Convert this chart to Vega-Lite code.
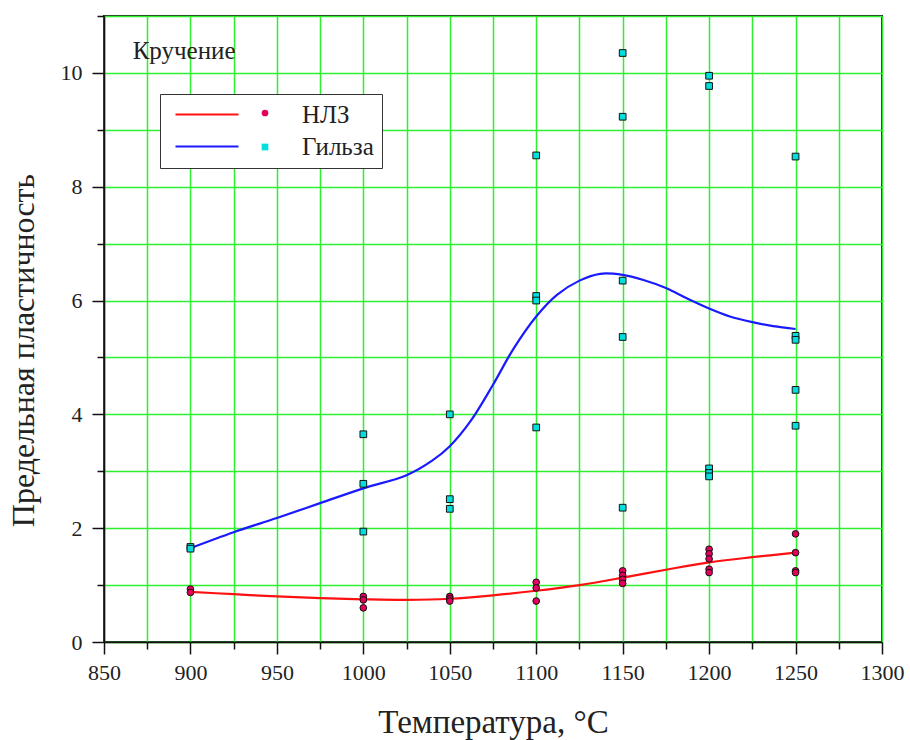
{
  "$schema": "https://vega.github.io/schema/vega-lite/v6.json",
  "width": 778,
  "height": 626,
  "autosize": "none",
  "padding": {"left": 104, "top": 16, "right": 28, "bottom": 98},
  "background": "white",
  "config": {
    "font": "Liberation Serif",
    "view": {"stroke": "#222", "strokeWidth": 2},
    "axis": {"labelFont": "Liberation Serif", "titleFont": "Liberation Serif"},
    "legend": {"labelFont": "Liberation Serif", "titleFont": "Liberation Serif"},
    "text": {"font": "Liberation Serif"}
  },
  "datasets": {
    "curves": [
      {"temp": 900, "value": 0.88, "series": "НЛЗ"},
      {"temp": 925, "value": 0.84, "series": "НЛЗ"},
      {"temp": 950, "value": 0.8, "series": "НЛЗ"},
      {"temp": 975, "value": 0.77, "series": "НЛЗ"},
      {"temp": 1000, "value": 0.75, "series": "НЛЗ"},
      {"temp": 1025, "value": 0.74, "series": "НЛЗ"},
      {"temp": 1050, "value": 0.76, "series": "НЛЗ"},
      {"temp": 1075, "value": 0.82, "series": "НЛЗ"},
      {"temp": 1100, "value": 0.9, "series": "НЛЗ"},
      {"temp": 1125, "value": 1.0, "series": "НЛЗ"},
      {"temp": 1150, "value": 1.13, "series": "НЛЗ"},
      {"temp": 1175, "value": 1.27, "series": "НЛЗ"},
      {"temp": 1200, "value": 1.4, "series": "НЛЗ"},
      {"temp": 1225, "value": 1.49, "series": "НЛЗ"},
      {"temp": 1250, "value": 1.57, "series": "НЛЗ"},
      {"temp": 900, "value": 1.65, "series": "Гильза"},
      {"temp": 925, "value": 1.93, "series": "Гильза"},
      {"temp": 950, "value": 2.18, "series": "Гильза"},
      {"temp": 975, "value": 2.44, "series": "Гильза"},
      {"temp": 1000, "value": 2.7, "series": "Гильза"},
      {"temp": 1025, "value": 2.93, "series": "Гильза"},
      {"temp": 1040, "value": 3.19, "series": "Гильза"},
      {"temp": 1050, "value": 3.44, "series": "Гильза"},
      {"temp": 1062, "value": 3.88, "series": "Гильза"},
      {"temp": 1075, "value": 4.52, "series": "Гильза"},
      {"temp": 1087, "value": 5.16, "series": "Гильза"},
      {"temp": 1100, "value": 5.72, "series": "Гильза"},
      {"temp": 1112, "value": 6.1, "series": "Гильза"},
      {"temp": 1125, "value": 6.35, "series": "Гильза"},
      {"temp": 1137, "value": 6.47, "series": "Гильза"},
      {"temp": 1150, "value": 6.45, "series": "Гильза"},
      {"temp": 1162, "value": 6.36, "series": "Гильза"},
      {"temp": 1175, "value": 6.22, "series": "Гильза"},
      {"temp": 1187, "value": 6.04, "series": "Гильза"},
      {"temp": 1200, "value": 5.86, "series": "Гильза"},
      {"temp": 1212, "value": 5.72, "series": "Гильза"},
      {"temp": 1225, "value": 5.62, "series": "Гильза"},
      {"temp": 1237, "value": 5.55, "series": "Гильза"},
      {"temp": 1250, "value": 5.5, "series": "Гильза"}
    ],
    "points": [
      {"temp": 900, "value": 0.93, "series": "НЛЗ"},
      {"temp": 900, "value": 0.87, "series": "НЛЗ"},
      {"temp": 1000, "value": 0.8, "series": "НЛЗ"},
      {"temp": 1000, "value": 0.74, "series": "НЛЗ"},
      {"temp": 1000, "value": 0.6, "series": "НЛЗ"},
      {"temp": 1050, "value": 0.8, "series": "НЛЗ"},
      {"temp": 1050, "value": 0.76, "series": "НЛЗ"},
      {"temp": 1050, "value": 0.72, "series": "НЛЗ"},
      {"temp": 1100, "value": 1.05, "series": "НЛЗ"},
      {"temp": 1100, "value": 0.95, "series": "НЛЗ"},
      {"temp": 1100, "value": 0.72, "series": "НЛЗ"},
      {"temp": 1150, "value": 1.25, "series": "НЛЗ"},
      {"temp": 1150, "value": 1.17, "series": "НЛЗ"},
      {"temp": 1150, "value": 1.1, "series": "НЛЗ"},
      {"temp": 1150, "value": 1.03, "series": "НЛЗ"},
      {"temp": 1200, "value": 1.63, "series": "НЛЗ"},
      {"temp": 1200, "value": 1.55, "series": "НЛЗ"},
      {"temp": 1200, "value": 1.46, "series": "НЛЗ"},
      {"temp": 1200, "value": 1.28, "series": "НЛЗ"},
      {"temp": 1200, "value": 1.22, "series": "НЛЗ"},
      {"temp": 1250, "value": 1.9, "series": "НЛЗ"},
      {"temp": 1250, "value": 1.57, "series": "НЛЗ"},
      {"temp": 1250, "value": 1.25, "series": "НЛЗ"},
      {"temp": 1250, "value": 1.22, "series": "НЛЗ"},
      {"temp": 900, "value": 1.67, "series": "Гильза"},
      {"temp": 900, "value": 1.64, "series": "Гильза"},
      {"temp": 1000, "value": 3.65, "series": "Гильза"},
      {"temp": 1000, "value": 2.78, "series": "Гильза"},
      {"temp": 1000, "value": 1.94, "series": "Гильза"},
      {"temp": 1050, "value": 4.0, "series": "Гильза"},
      {"temp": 1050, "value": 2.51, "series": "Гильза"},
      {"temp": 1050, "value": 2.34, "series": "Гильза"},
      {"temp": 1100, "value": 8.55, "series": "Гильза"},
      {"temp": 1100, "value": 6.08, "series": "Гильза"},
      {"temp": 1100, "value": 6.0, "series": "Гильза"},
      {"temp": 1100, "value": 3.77, "series": "Гильза"},
      {"temp": 1150, "value": 10.35, "series": "Гильза"},
      {"temp": 1150, "value": 9.23, "series": "Гильза"},
      {"temp": 1150, "value": 6.35, "series": "Гильза"},
      {"temp": 1150, "value": 5.36, "series": "Гильза"},
      {"temp": 1150, "value": 2.36, "series": "Гильза"},
      {"temp": 1200, "value": 9.95, "series": "Гильза"},
      {"temp": 1200, "value": 9.77, "series": "Гильза"},
      {"temp": 1200, "value": 3.05, "series": "Гильза"},
      {"temp": 1200, "value": 2.97, "series": "Гильза"},
      {"temp": 1200, "value": 2.91, "series": "Гильза"},
      {"temp": 1250, "value": 8.53, "series": "Гильза"},
      {"temp": 1250, "value": 5.38, "series": "Гильза"},
      {"temp": 1250, "value": 5.31, "series": "Гильза"},
      {"temp": 1250, "value": 4.43, "series": "Гильза"},
      {"temp": 1250, "value": 3.8, "series": "Гильза"}
    ],
    "notes": [
      {"temp": 866.6, "value": 10.25, "label": "Кручение"}
    ]
  },
  "encoding": {
    "x": {
      "field": "temp",
      "type": "quantitative",
      "scale": {"domain": [850, 1300], "nice": false, "zero": false},
      "axis": {
        "values": [850, 875, 900, 925, 950, 975, 1000, 1025, 1050, 1075, 1100, 1125, 1150, 1175, 1200, 1225, 1250, 1275, 1300],
        "format": "d",
        "labelExpr": "datum.value % 50 === 0 ? datum.label : ''",
        "tickSize": {"condition": {"test": "datum.value % 50 === 0", "value": 12}, "value": 7},
        "tickColor": "#111",
        "tickWidth": 1.5,
        "domainColor": "#111",
        "domainWidth": 1.5,
        "grid": true,
        "gridColor": "#2ef02e",
        "gridWidth": 1.5,
        "labelFont": "Liberation Serif",
        "labelFontSize": 22,
        "labelColor": "#222",
        "labelPadding": 8,
        "labelFlush": false,
        "title": "Температура, °C",
        "titleFont": "Liberation Serif",
        "titleFontSize": 33,
        "titleFontWeight": "normal",
        "titleColor": "#222",
        "titleBaseline": "alphabetic",
        "titleY": 90
      }
    },
    "y": {
      "field": "value",
      "type": "quantitative",
      "scale": {"domain": [0, 11], "nice": false},
      "axis": {
        "values": [0, 1, 2, 3, 4, 5, 6, 7, 8, 9, 10, 11],
        "format": "d",
        "labelExpr": "datum.value % 2 === 0 && datum.value <= 10 ? datum.label : ''",
        "tickSize": {"condition": {"test": "datum.value % 2 === 0", "value": 12}, "value": 7},
        "tickColor": "#111",
        "tickWidth": 1.5,
        "domainColor": "#111",
        "domainWidth": 1.5,
        "grid": true,
        "gridColor": "#2ef02e",
        "gridWidth": 1.5,
        "labelFont": "Liberation Serif",
        "labelFontSize": 22,
        "labelColor": "#222",
        "labelPadding": 10,
        "labelFlush": false,
        "title": "Предельная пластичность",
        "titleFont": "Liberation Serif",
        "titleFontSize": 32,
        "titleFontWeight": "normal",
        "titleColor": "#222",
        "titleBaseline": "alphabetic",
        "titleX": -71,
        "titleY": 334
      }
    }
  },
  "layer": [
    {
      "data": {"name": "notes"},
      "mark": {"type": "text", "align": "left", "baseline": "alphabetic", "fontSize": 25, "font": "Liberation Serif", "color": "#222"},
      "encoding": {"text": {"field": "label"}}
    },
    {
      "data": {"name": "curves"},
      "mark": {"type": "line", "interpolate": "catmull-rom", "strokeWidth": 2.2},
      "encoding": {
        "stroke": {
          "field": "series",
          "type": "nominal",
          "scale": {"domain": ["НЛЗ", "Гильза"], "range": ["#ff1010", "#1a1aff"]},
          "legend": {
            "orient": "none",
            "legendX": 56,
            "legendY": 78,
            "title": null,
            "symbolType": "M-1,0H11.6",
            "symbolSize": 100,
            "symbolStrokeWidth": 2.2,
            "labelFont": "Liberation Serif",
            "labelFontSize": 25,
            "labelColor": "#222",
            "labelOffset": 109,
            "rowPadding": 6,
            "padding": 8,
            "fillColor": "white",
            "strokeColor": "#333",
            "zindex": 1
          }
        }
      }
    },
    {
      "data": {"name": "points"},
      "mark": {"type": "point", "filled": true, "stroke": "#111", "strokeWidth": 1, "size": 45, "opacity": 1},
      "encoding": {
        "fill": {
          "field": "series",
          "type": "nominal",
          "scale": {"domain": ["НЛЗ", "Гильза"], "range": ["#e3005a", "#00dede"]},
          "legend": {
            "orient": "none",
            "legendX": 157,
            "legendY": 93,
            "title": null,
            "symbolSize": 45,
            "symbolStrokeColor": "#111",
            "symbolStrokeWidth": 1,
            "labelExpr": "''",
            "labelFontSize": 1,
            "rowPadding": 22,
            "padding": 0,
            "zindex": 2
          }
        },
        "shape": {
          "field": "series",
          "type": "nominal",
          "scale": {"domain": ["НЛЗ", "Гильза"], "range": ["circle", "square"]},
          "legend": {
            "orient": "none",
            "legendX": 157,
            "legendY": 93,
            "title": null,
            "symbolSize": 45,
            "symbolStrokeColor": "#111",
            "symbolStrokeWidth": 1,
            "labelExpr": "''",
            "labelFontSize": 1,
            "rowPadding": 22,
            "padding": 0,
            "zindex": 2
          }
        }
      }
    }
  ],
  "resolve": {"scale": {"fill": "independent", "shape": "independent"}}
}
